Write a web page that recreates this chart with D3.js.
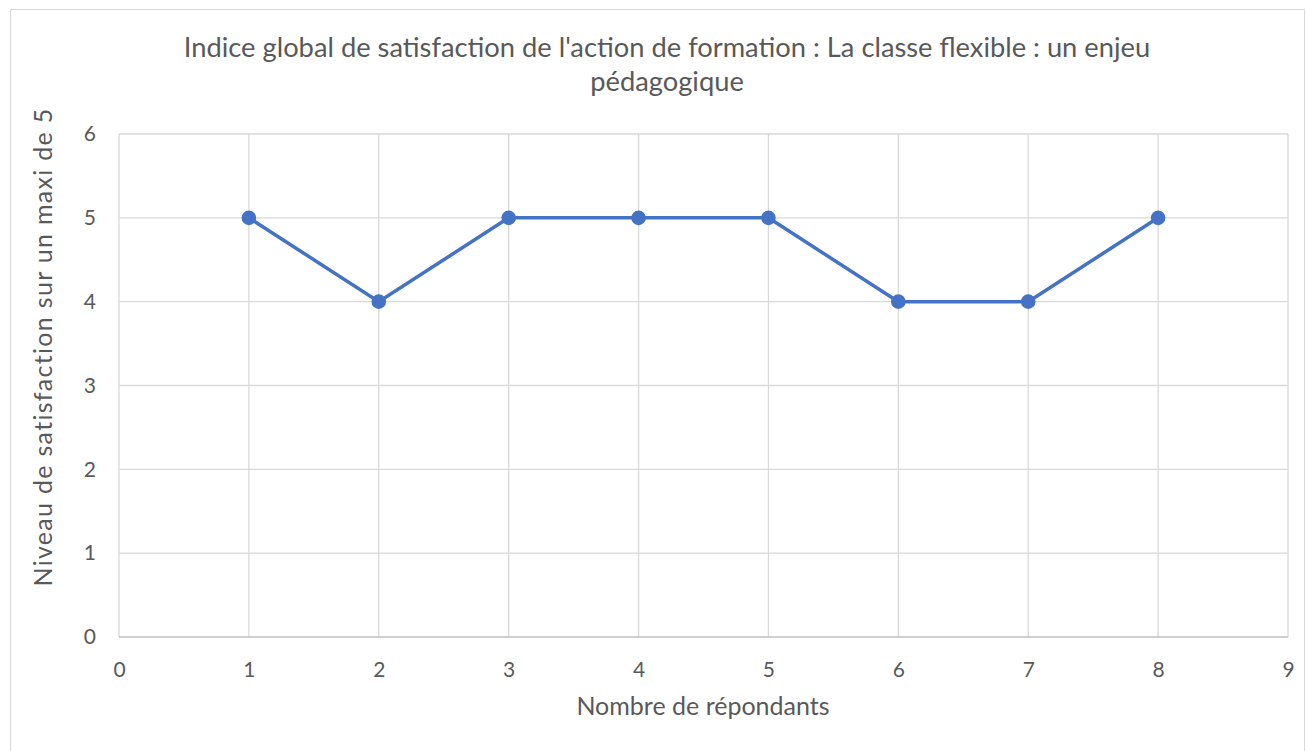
<!DOCTYPE html>
<html><head><meta charset="utf-8">
<script src="https://cdn.jsdelivr.net/npm/d3@7/dist/d3.min.js"></script>
<style>body{margin:0;background:#fff;} text{font-family:Lato,"Open Sans",sans-serif;fill:#595959;}</style>
</head><body><svg id="c" width="1306" height="751"></svg>
<script>
const respondents = [1,2,3,4,5,6,7,8];
const satisfaction = [5,4,5,5,5,4,4,5];
const xTicks = [0,1,2,3,4,5,6,7,8,9];
const yTicks = [0,1,2,3,4,5,6];
const titleLines = ["Indice global de satisfaction de l'action de formation : La classe flexible : un enjeu","pédagogique"];
const xTitle = "Nombre de répondants";
const yTitle = "Niveau de satisfaction sur un maxi de 5";

const svg = d3.select("#c");
svg.append("rect").attr("x",10.5).attr("y",9.5).attr("width",1294).attr("height",745).attr("fill","#fff").attr("stroke","#d9d9d9");
const L=119,R=1288,T=134,B=637;
const x = d3.scaleLinear().domain([0,9]).range([L,R]);
const y = d3.scaleLinear().domain([0,6]).range([B,T]);
svg.append("g").selectAll("line").data(xTicks).join("line")
 .attr("x1",d=>x(d)).attr("x2",d=>x(d)).attr("y1",T).attr("y2",B).attr("stroke","#d9d9d9").attr("stroke-width",1.3);
svg.append("g").selectAll("line").data(yTicks).join("line")
 .attr("x1",L).attr("x2",R).attr("y1",d=>y(d)).attr("y2",d=>y(d)).attr("stroke",d=>d===0?"#bfbfbf":"#d9d9d9").attr("stroke-width",1.3);
const xa = svg.append("g").attr("transform",`translate(0,${B})`).call(d3.axisBottom(x).tickValues(xTicks).tickFormat(d3.format("d")).tickSize(0).tickPadding(25));
xa.select(".domain").remove();
xa.selectAll("text").style("font-size","21px").style("font-family","Lato,sans-serif").style("fill","#595959");
const ya = svg.append("g").attr("transform",`translate(${L},0)`).call(d3.axisLeft(y).tickValues(yTicks).tickFormat(d3.format("d")).tickSize(0).tickPadding(23));
ya.select(".domain").remove();
ya.selectAll("text").style("font-size","21px").style("font-family","Lato,sans-serif").style("fill","#595959");
const pts = respondents.map((r,i)=>[r,satisfaction[i]]);
svg.append("path").datum(pts).attr("fill","none").attr("stroke","#4472C4").attr("stroke-width",3.5)
 .attr("d",d3.line().x(d=>x(d[0])).y(d=>y(d[1])));
svg.append("g").selectAll("circle").data(pts).join("circle")
 .attr("cx",d=>x(d[0])).attr("cy",d=>y(d[1])).attr("r",7.3).attr("fill","#4472C4");
svg.append("g").selectAll("text").data(titleLines).join("text")
 .attr("x",667).attr("y",(d,i)=>57+i*34).attr("text-anchor","middle").style("font-size","27.3px").text(d=>d);
svg.append("text").attr("x",703).attr("y",715).attr("text-anchor","middle").style("font-size","25px").text(xTitle);
svg.append("text").attr("transform",`translate(52,347) rotate(-90)`).attr("text-anchor","middle").style("font-size","25px").style("letter-spacing","1.3px").text(yTitle);
</script></body></html>
